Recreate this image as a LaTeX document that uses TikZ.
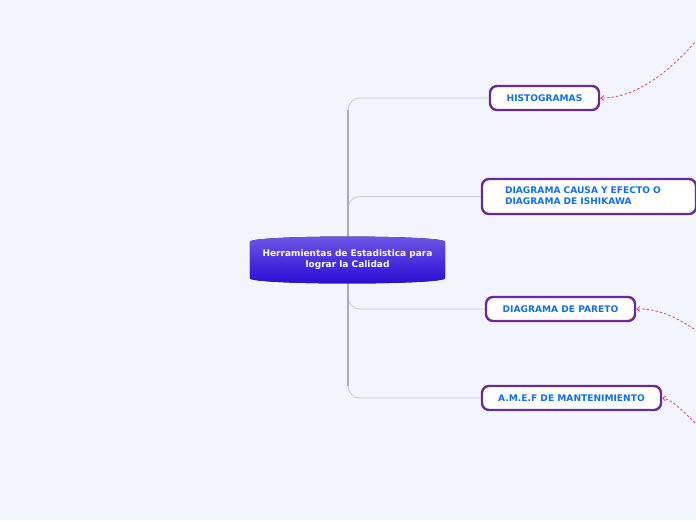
\documentclass[tikz,border=0pt]{standalone}
\usepackage{fontspec}
\setmainfont{DejaVu Sans}
\usetikzlibrary{arrows.meta,backgrounds}
\definecolor{bg}{RGB}{242,245,253}
\definecolor{ctop}{RGB}{112,88,230}
\definecolor{cbot}{RGB}{38,12,212}
\definecolor{pborder}{RGB}{104,44,146}
\definecolor{ptext}{RGB}{18,112,228}
\definecolor{branch}{RGB}{204,204,208}
\definecolor{trunkc}{RGB}{172,172,176}
\definecolor{dash}{RGB}{222,70,110}
\tikzset{
  topic/.style={draw=pborder, line width=2.4pt, fill=white, rounded corners=7pt,
    text=ptext, font=\fontsize{9.1}{12}\selectfont\bfseries, inner sep=0pt, minimum height=24pt},
  branchline/.style={draw=branch, line width=0.9pt, rounded corners=12pt},
  trunk/.style={draw=trunkc, line width=1.8pt},
  rel/.style={draw=dash, line width=0.8pt, dash pattern=on 2.5pt off 2pt, -{Straight Barb[length=3pt,width=5pt]}},
  central/.style={text=white, font=\fontsize{9}{11}\selectfont\bfseries, align=center},
}
\begin{document}
\begin{tikzpicture}[x=1pt,y=-1pt]
\useasboundingbox (0,0) rectangle (696,520);
% central node
\node[minimum width=195pt, minimum height=44pt, inner sep=0pt] (c) at (347.5,260) {};
% topics
\node[topic, minimum width=109pt] (h) at (544.5,98) {HISTOGRAMAS};
\node[topic, minimum width=214pt, minimum height=35pt, align=left, text width=191pt] (i) at (589,196.5)
  {\hspace*{11.5pt}\begin{tabular}{@{}l@{}}DIAGRAMA CAUSA Y EFECTO O\\[-1pt]DIAGRAMA DE ISHIKAWA\end{tabular}};
\node[topic, minimum width=149pt] (p) at (560.5,309) {DIAGRAMA DE PARETO};
\node[topic, minimum width=179pt] (a) at (571.5,398) {A.M.E.F DE MANTENIMIENTO};
% free ends
\coordinate (t1) at (348,110);
\coordinate (t2) at (348,386);
\coordinate (ch) at (348,260);
\coordinate (r1) at (712,22);
\coordinate (r2) at (716,345);
\coordinate (r3) at (712,438);
\begin{pgfonlayer}{background}
\fill[bg] (0,0) rectangle (696,520);
\draw[branchline] (ch) |- (h.west);
\draw[branchline] (ch) |- (i.west);
\draw[branchline] (ch) |- (p.west);
\draw[branchline] (ch) |- (a.west);
\draw[trunk] (t1) -- (t2);
\end{pgfonlayer}
% central shape
\fill[top color=ctop, bottom color=cbot]
  ([yshift=-4pt]c.north west) .. controls ([xshift=2pt,yshift=3pt]c.north west) and ([xshift=-2pt,yshift=3pt]c.north east) .. ([yshift=-4pt]c.north east)
  -- ([yshift=4pt]c.south east) .. controls ([xshift=-2pt,yshift=-3pt]c.south east) and ([xshift=2pt,yshift=-3pt]c.south west) .. ([yshift=4pt]c.south west) -- cycle;
\node[central] at (c.center) {Herramientas de Estadistica para\\lograr la Calidad};
% dashed relations
\draw[rel] (r1) .. controls (670,75) and (635,98) .. (h.east);
\draw[rel] (r2) .. controls (690,325) and (665,308) .. (p.east);
\draw[rel] (r3) .. controls (690,420) and (675,400) .. (a.east);
\end{tikzpicture}
\end{document}
